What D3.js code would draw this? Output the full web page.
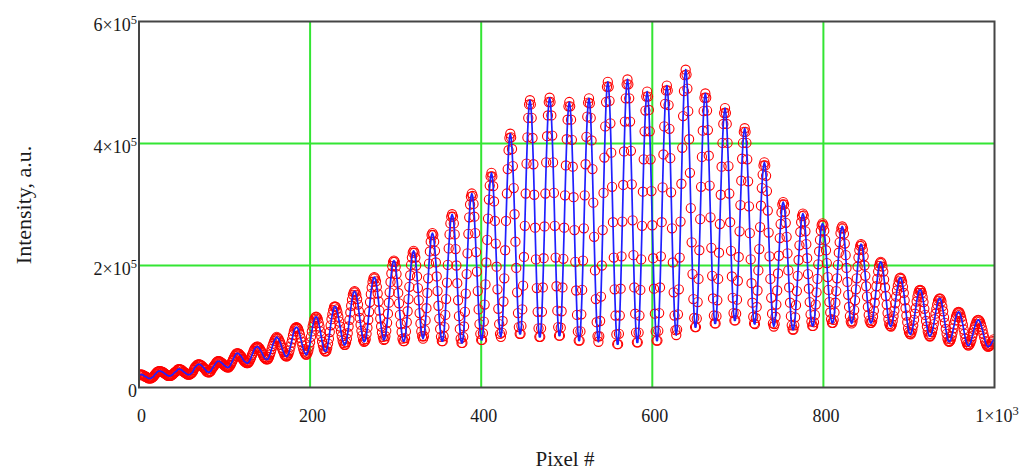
<!DOCTYPE html>
<html>
<head>
<meta charset="utf-8">
<script src="https://cdn.jsdelivr.net/npm/d3@7"></script>
<style>
  html, body { margin: 0; padding: 0; background: #ffffff; }
  svg { display: block; }
</style>
</head>
<body>
<svg id="chart" width="1019" height="472"></svg>
<script>
// Detector intensity per pixel, in units of 10^3 (the pixel number is the array index, 0..999)
const intensityK = [
  20,21,
  21,21,21,20,19,18,18,17,16,15,15,15,15,16,17,18,20,22,23,25,26,27,
  27,27,26,26,25,24,23,22,21,20,19,19,19,19,20,21,22,24,25,26,27,29,30,
  30,30,29,29,27,26,25,24,23,22,21,21,21,22,23,24,26,29,32,34,35,37,38,
  38,38,37,36,35,33,32,30,29,26,26,25,25,26,27,30,32,34,36,38,40,42,43,
  43,43,42,41,40,39,37,36,35,34,33,33,33,35,37,40,43,46,49,52,54,56,
  56,56,55,53,52,50,47,45,43,42,41,40,40,41,43,46,49,53,56,60,63,65,66,
  67,67,65,64,61,59,56,53,50,48,47,46,46,47,50,54,58,63,68,72,76,79,81,
  83,81,80,77,74,70,65,61,58,54,52,51,51,53,56,61,67,73,79,86,92,96,98,
  99,98,96,92,87,81,75,69,63,59,56,54,54,57,61,67,74,83,92,100,106,112,115,
  116,115,112,106,100,92,84,75,69,63,60,59,60,65,72,80,91,102,112,120,127,132,
  133,132,128,123,116,108,100,92,84,77,73,70,70,74,80,89,100,111,123,134,144,152,156,
  158,156,152,145,136,125,114,103,93,85,78,75,76,79,88,98,111,124,140,153,164,173,179,
  181,179,174,165,154,141,126,113,100,90,83,78,79,84,93,106,121,139,156,173,187,199,206,
  208,206,198,186,172,155,138,119,104,91,80,76,76,81,92,107,125,145,165,184,201,213,221,
  224,221,213,200,182,163,143,122,105,92,84,80,84,94,110,130,155,179,203,223,239,250,
  253,250,239,224,205,182,158,134,113,96,83,76,76,84,99,119,145,172,201,228,251,269,280,
  284,280,269,251,227,200,171,143,117,96,80,73,73,83,100,124,154,186,220,252,279,300,313,
  318,314,301,280,253,222,190,158,128,104,88,78,78,89,108,136,169,205,242,277,308,331,346,
  352,346,330,305,273,236,198,161,129,104,88,83,90,109,141,179,225,273,318,358,389,409,
  416,410,391,363,327,284,239,196,156,122,99,88,88,101,128,167,214,265,318,367,410,442,464,
  471,464,442,409,366,316,262,210,163,124,97,83,83,97,124,164,212,264,318,369,412,446,468,
  475,468,446,413,369,319,265,213,166,126,99,85,85,98,125,164,211,262,315,364,407,439,461,
  468,461,439,406,362,312,258,206,159,119,92,77,77,92,120,160,208,261,315,366,411,444,467,
  474,466,442,405,358,303,247,192,145,107,84,75,84,109,149,200,258,319,377,428,468,493,
  501,493,470,433,385,329,271,213,161,118,87,71,71,88,118,162,215,272,332,387,436,474,497,
  505,497,474,436,388,333,274,217,164,121,90,74,74,90,118,160,210,265,321,374,420,454,477,
  485,477,455,420,374,322,266,212,162,121,92,77,77,93,122,164,215,271,328,382,428,465,487,
  495,487,463,424,376,320,261,205,156,118,94,86,95,120,161,213,272,334,393,445,486,512,
  521,513,490,453,407,352,294,238,186,145,114,99,99,113,140,178,225,276,329,378,421,453,475,
  482,475,454,422,380,331,279,229,183,146,118,105,105,117,143,178,221,268,316,362,401,432,450,
  458,450,432,401,363,318,271,224,182,147,122,110,110,121,144,175,214,256,299,339,375,401,419,
  425,419,401,374,338,297,253,210,171,139,116,105,104,114,132,159,192,227,263,298,327,349,364,
  369,364,347,322,290,254,215,178,147,121,105,100,104,116,136,159,187,216,245,268,287,300,
  304,300,288,270,247,220,192,164,139,117,102,95,95,102,115,135,158,183,209,233,255,271,281,
  285,282,272,256,235,212,186,162,140,120,108,101,101,107,119,136,156,178,202,223,242,257,266,
  269,266,257,242,225,204,181,160,140,123,112,106,106,111,123,139,158,179,201,221,238,253,261,
  264,261,252,236,217,196,173,152,132,117,108,105,108,115,127,143,161,179,198,213,225,232,
  235,233,226,215,200,183,166,149,132,119,110,106,106,109,116,126,139,152,166,178,190,199,204,
  206,204,198,190,177,164,150,136,122,112,104,101,100,103,109,117,126,138,149,159,167,174,179,
  180,178,173,165,155,143,130,118,107,97,91,88,87,90,95,102,111,121,130,141,149,155,159,
  160,159,155,148,140,129,119,109,100,92,87,84,84,87,91,97,104,112,121,129,136,142,145,
  146,145,141,133,125,115,106,96,88,80,76,75,76,79,84,90,97,103,110,116,120,123,
  124,123,120,115,109,103,95,88,80,75,71,69,69,71,74,78,84,89,95,100,104,108,110,
  111,110,108,104,99,94,88,82,76,72,69,67,67,68,69,71,74,76,79
];

// Axis ticks and their printed labels ("^" marks a superscript exponent)
const xTickValues = [0, 200, 400, 600, 800, 1000];
const xTickLabels = ["0", "200", "400", "600", "800", "1×10^3"];
const yTickValues = [0, 2e5, 4e5, 6e5];
const yTickLabels = ["0", "2×10^5", "4×10^5", "6×10^5"];
const xGridValues = [200, 400, 600, 800];
const yGridValues = [2e5, 4e5];

const xTitle = "Pixel #";
const yTitle = "Intensity, a.u.";

// ---- layout ----
const plot = { left: 139, right: 994.5, top: 21.5, bottom: 387.5 };
const FONT = '"Liberation Serif", "Times New Roman", serif';
const TEXT_COLOR = "#1a1a1a";

const x = d3.scaleLinear().domain([0, 1000]).range([plot.left, plot.right]);
const y = d3.scaleLinear().domain([0, 6e5]).range([plot.bottom, plot.top]);

const points = intensityK.map((v, i) => ({ pixel: i, value: v * 1e3 }));

const svg = d3.select("#chart");

svg.append("defs").append("clipPath").attr("id", "plot-clip")
  .append("rect")
  .attr("x", plot.left).attr("y", plot.top)
  .attr("width", plot.right - plot.left).attr("height", plot.bottom - plot.top);

// grid lines
const grid = svg.append("g").attr("stroke", "#33e533").attr("stroke-width", 2);
grid.selectAll("line.gx").data(xGridValues).join("line").attr("class", "gx")
  .attr("x1", d => x(d)).attr("x2", d => x(d))
  .attr("y1", plot.top).attr("y2", plot.bottom);
grid.selectAll("line.gy").data(yGridValues).join("line").attr("class", "gy")
  .attr("x1", plot.left).attr("x2", plot.right)
  .attr("y1", d => y(d)).attr("y2", d => y(d));

// data: open circles at every pixel plus the connecting trace
const dataLayer = svg.append("g").attr("clip-path", "url(#plot-clip)");
dataLayer.selectAll("circle").data(points).join("circle")
  .attr("cx", d => x(d.pixel))
  .attr("cy", d => y(d.value))
  .attr("r", 4.6)
  .attr("fill", "none")
  .attr("stroke", "#ff0000")
  .attr("stroke-width", 1.1);

dataLayer.append("path").datum(points)
  .attr("d", d3.line().x(d => x(d.pixel)).y(d => y(d.value)))
  .attr("fill", "none")
  .attr("stroke", "#1f1fff")
  .attr("stroke-width", 1.7)
  .attr("stroke-linejoin", "round");

// plot frame
svg.append("rect")
  .attr("x", plot.left).attr("y", plot.top)
  .attr("width", plot.right - plot.left).attr("height", plot.bottom - plot.top)
  .attr("fill", "none").attr("stroke", "#454545").attr("stroke-width", 2);

// turn "a^b" labels into text with a raised exponent
function addExponents(sel) {
  sel.each(function () {
    const t = d3.select(this);
    const [mant, exp] = t.text().split("^");
    if (exp !== undefined) {
      t.text(mant);
      t.append("tspan").attr("font-size", 12.5).attr("dy", -7).text(exp);
    }
  });
}

const xLabelOf = new Map(xTickValues.map((v, i) => [v, xTickLabels[i]]));
const yLabelOf = new Map(yTickValues.map((v, i) => [v, yTickLabels[i]]));

// x axis labels
const gx = svg.append("g")
  .attr("transform", `translate(0,${plot.bottom})`)
  .call(d3.axisBottom(x).tickValues(xTickValues).tickSize(0).tickPadding(0)
    .tickFormat(v => xLabelOf.get(v)));
gx.select(".domain").remove();
gx.attr("font-family", FONT).attr("font-size", 18).attr("color", TEXT_COLOR);
gx.selectAll(".tick text").attr("y", 34).attr("dy", null).attr("dx", 2).call(addExponents);

// y axis labels
const gy = svg.append("g")
  .attr("transform", `translate(137,0)`)
  .call(d3.axisLeft(y).tickValues(yTickValues).tickSize(0).tickPadding(0)
    .tickFormat(v => yLabelOf.get(v)));
gy.select(".domain").remove();
gy.attr("font-family", FONT).attr("font-size", 18).attr("color", TEXT_COLOR);
gy.selectAll(".tick text").attr("x", 0).attr("dy", 9).call(addExponents);

// axis titles
svg.append("text")
  .attr("x", 565).attr("y", 466)
  .attr("text-anchor", "middle")
  .attr("font-family", FONT).attr("font-size", 21).attr("fill", TEXT_COLOR)
  .text(xTitle);

svg.append("text")
  .attr("transform", "translate(31,205) rotate(-90)")
  .attr("text-anchor", "middle")
  .attr("font-family", FONT).attr("font-size", 22).attr("fill", TEXT_COLOR)
  .text(yTitle);
</script>
</body>
</html>
